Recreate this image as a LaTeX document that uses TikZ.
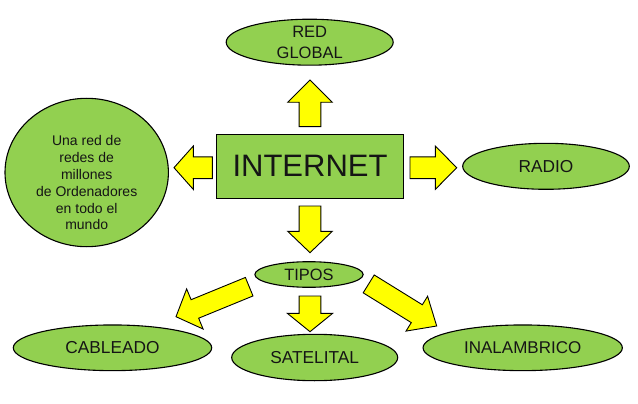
\documentclass[tikz,border=0pt]{standalone}
\usepackage{fontspec}
\setmainfont{Liberation Sans}
\usetikzlibrary{shapes.geometric,calc}
\definecolor{leaf}{HTML}{92D050}
\definecolor{arrowyellow}{HTML}{FFFF00}
\definecolor{inktext}{HTML}{151515}
\newcommand\blockarr[5]{%
  \coordinate (bb) at ($(#2)!#5!(#1)$);
  \draw[arrowbox] ($(#1)!#3!90:(#2)$) -- ($(bb)!#3!90:(#2)$) -- ($(bb)!#4!90:(#2)$) -- (#2)
    -- ($(bb)!#4!-90:(#2)$) -- ($(bb)!#3!-90:(#2)$) -- ($(#1)!#3!-90:(#2)$) -- cycle;}
\begin{document}
\begin{tikzpicture}[x=1pt,y=-1pt,
  oval/.style={ellipse,draw=black,line width=1.1pt,fill=leaf,inner sep=0pt,text=inktext,align=center},
  box/.style={rectangle,draw=black,line width=1.1pt,fill=leaf,inner sep=0pt,text=inktext},
  arrowbox/.style={draw=black,line width=0.9pt,fill=arrowyellow,line join=miter}]
\useasboundingbox[fill=white] (0,0) rectangle (638,404);
% nodes
\node[oval,minimum width=167pt,minimum height=45.6pt,font=\fontsize{16.5}{21}\selectfont] (red) at (309.7,42.2) {RED\\GLOBAL};
\node[box,minimum width=186.6pt,minimum height=64pt,font=\fontsize{31}{36}\selectfont] (inet) at (310,166.3) {INTERNET};
\node[oval,minimum width=166.6pt,minimum height=46pt,font=\fontsize{17.3}{21}\selectfont] (radio) at (546,166.3) {RADIO};
\node[oval,minimum width=163.4pt,minimum height=148.4pt] (circ) at (86.7,172.5) {};
\node[inner sep=0pt,align=center,text=inktext,font=\fontsize{14}{16.8}\selectfont] (circtext) at (86.7,182.9) {Una red de\\redes de\\millones\\de Ordenadores\\en todo el\\mundo};
\node[oval,minimum width=108.3pt,minimum height=25.6pt,font=\fontsize{16.4}{20}\selectfont] (tipos) at (309,274.5) {TIPOS};
\node[oval,minimum width=198.4pt,minimum height=45.7pt,font=\fontsize{17.3}{21}\selectfont] (cable) at (112.5,347.8) {CABLEADO};
\node[oval,minimum width=166pt,minimum height=46.4pt,font=\fontsize{17.3}{21}\selectfont] (sat) at (314.7,357.5) {SATELITAL};
\node[oval,minimum width=199.3pt,minimum height=45.7pt,font=\fontsize{17}{21}\selectfont] (inal) at (522.7,347.8) {INALAMBRICO};
% arrow ends
\coordinate (upT) at (310,126.7);   \coordinate (upP) at (310,80);
\coordinate (lfT) at (212.3,167.7); \coordinate (lfP) at (174,167.7);
\coordinate (rtT) at (410,167.7);   \coordinate (rtP) at (456.7,167.7);
\coordinate (dnT) at (310,206);     \coordinate (dnP) at (310,252.7);
\coordinate (saT) at (310,296);     \coordinate (saP) at (310,331.7);
\coordinate (caT) at (249.2,286.7); \coordinate (caP) at (176,316.7);
\coordinate (inT) at (368.7,283.9); \coordinate (inP) at (436.7,326);
% block arrows
\blockarr{upT}{upP}{10.85pt}{22.3pt}{22.3pt}
\blockarr{lfT}{lfP}{10.85pt}{21.7pt}{19.3pt}
\blockarr{rtT}{rtP}{10.85pt}{21.7pt}{21.4pt}
\blockarr{dnT}{dnP}{10.85pt}{22.3pt}{21.4pt}
\blockarr{saT}{saP}{10.85pt}{22.7pt}{18.4pt}
\blockarr{caT}{caP}{10pt}{21.7pt}{20.4pt}
\blockarr{inT}{inP}{10.5pt}{20.5pt}{23.4pt}
\end{tikzpicture}
\end{document}
